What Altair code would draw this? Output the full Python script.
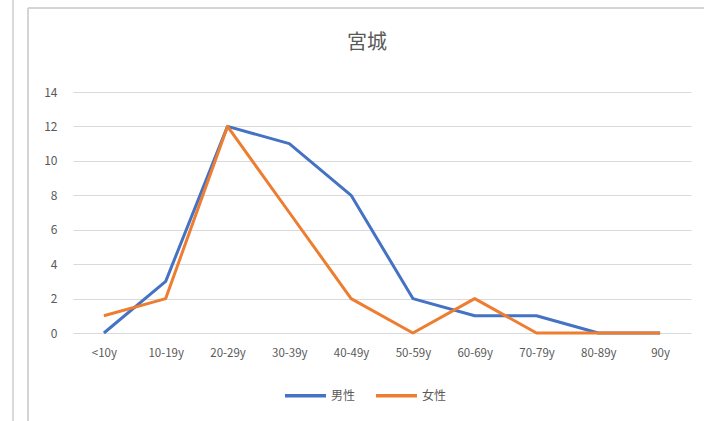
import altair as alt
import pandas as pd

# Age groups and case counts per sex (Miyagi)
ages = ["<10y", "10-19y", "20-29y", "30-39y", "40-49y",
        "50-59y", "60-69y", "70-79y", "80-89y", "90y"]
male = [0, 3, 12, 11, 8, 2, 1, 1, 0, 0]
female = [1, 2, 12, 7, 2, 0, 2, 0, 0, 0]
series = ["男性", "女性"]
colors = ["#4472C4", "#ED7D31"]
y_ticks = [0, 2, 4, 6, 8, 10, 12, 14]
title_text = "宮城"

rows = []
for name, vals in zip(series, [male, female]):
    for a, v in zip(ages, vals):
        rows.append({"age": a, "count": v, "sex": name})
df = pd.DataFrame(rows)

FONT = "Noto Sans CJK JP"
GREY = "#595959"

lines = alt.Chart(df).mark_line(strokeWidth=3, strokeJoin="round").encode(
    x=alt.X("age:N", sort=ages,
            scale=alt.Scale(type="point", padding=0.5),
            axis=alt.Axis(title=None, labelAngle=0, grid=False, domain=False,
                          ticks=False, labelPadding=14, labelFontSize=11.5,
                          labelColor=GREY, labelFont=FONT)),
    y=alt.Y("count:Q", scale=alt.Scale(domain=[0, 14], nice=False),
            axis=alt.Axis(title=None, values=y_ticks, grid=True,
                          gridColor="#D9D9D9", gridWidth=1, domain=False,
                          ticks=False, labelPadding=16, labelFontSize=12,
                          labelColor=GREY, labelFont=FONT)),
    color=alt.Color("sex:N", sort=series,
                    scale=alt.Scale(domain=series, range=colors),
                    legend=alt.Legend(title=None, orient="none",
                                      direction="horizontal",
                                      legendX=210, legendY=281,
                                      symbolType="stroke", symbolSize=1680,
                                      symbolStrokeWidth=3.5,
                                      labelFontSize=12, labelColor=GREY,
                                      labelFont=FONT, labelOffset=3,
                                      columnPadding=13)),
)

# Chart title drawn as text above the plot
title = alt.Chart(pd.DataFrame({"t": [title_text]})).mark_text(
    font=FONT, fontSize=20, color=GREY, baseline="middle", align="center"
).encode(text="t:N", x=alt.value(294), y=alt.value(-49))

# Chart-area frame lines
frame_left = alt.Chart(df).mark_rule(color="#D4D4D4", strokeWidth=1).encode(
    x=alt.value(-45), y=alt.value(-84), y2=alt.value(329))
frame_top = alt.Chart(df).mark_rule(color="#D4D4D4", strokeWidth=1).encode(
    x=alt.value(-45), x2=alt.value(631), y=alt.value(-84))
edge = alt.Chart(df).mark_rule(color="#D9D9D9", strokeWidth=1).encode(
    x=alt.value(-60), y=alt.value(-92), y2=alt.value(329))

chart = alt.layer(edge, frame_left, frame_top, title, lines).properties(
    width=618, height=241,
    background="white",
    autosize=alt.AutoSizeParams(type="none"),
    padding={"left": 73, "top": 92, "right": 13, "bottom": 88},
).configure_view(strokeWidth=0, stroke=None)

chart.save("out.html", embed_options={"renderer": "svg", "actions": False})
